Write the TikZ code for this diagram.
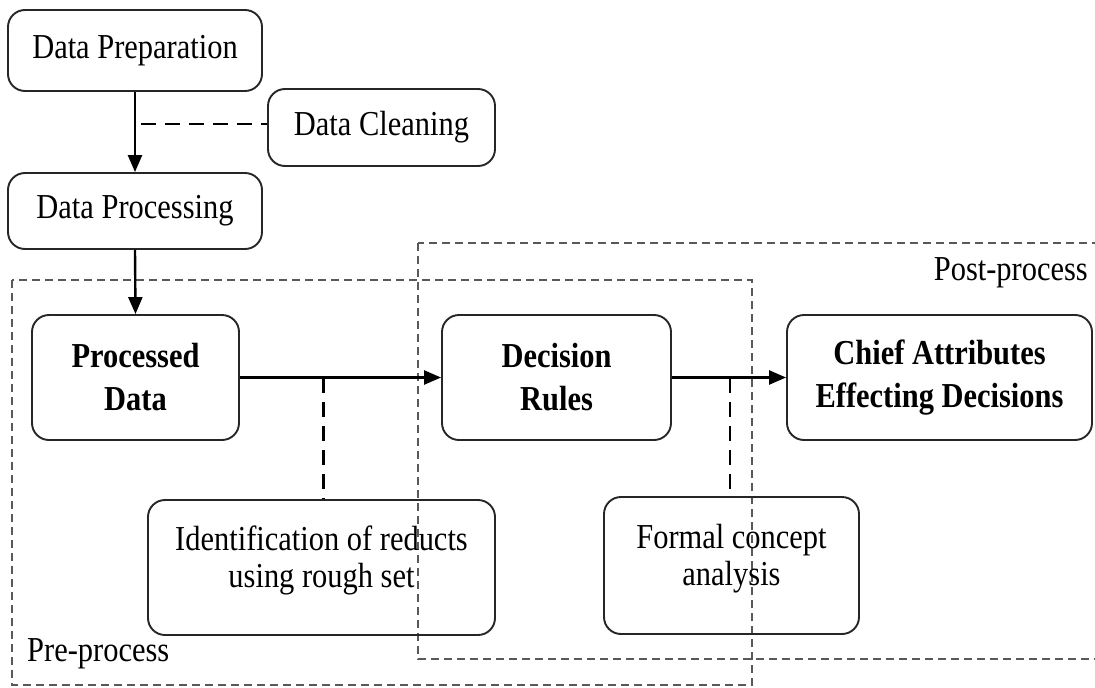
\documentclass[tikz,border=0pt]{standalone}
\usepackage{fontspec}
\setmainfont{Liberation Serif}[FakeStretch=0.87]
\usetikzlibrary{arrows.meta,calc}

\tikzset{
  box/.style={draw=black!85, line width=1.9pt, rounded corners=17pt,
    align=center, inner sep=0pt, font=\fontsize{35}{37}\selectfont},
  boldbox/.style={box, font=\fontsize{35}{43}\selectfont\bfseries},
  flow/.style={line width=2.4pt, -{Triangle[length=17pt,width=14pt]}},
  link/.style={line width=2.6pt, dash pattern=on 15pt off 9pt},
  region/.style={draw=black!65, line width=1.4pt, dash pattern=on 8pt off 5pt},
  tag/.style={inner sep=0pt, font=\fontsize{35}{37}\selectfont}
}

\begin{document}
\begin{tikzpicture}[x=1pt, y=-1pt]
\useasboundingbox (0,0) rectangle (1095,688);

% stage regions
\draw[region] (12,280) rectangle (752,685);
\draw[region] (418,243) rectangle (1110,659);
\node[tag, anchor=east] (postlbl) at (1088,273) {Post-process};
\node[tag, anchor=west] (prelbl) at (27,654) {Pre-process};

% preparation chain
\node[box, minimum width=254pt, minimum height=81pt] (prep) at (135,50.5) {Data Preparation};
\node[box, minimum width=227pt, minimum height=77pt] (clean) at (381.5,127.5) {Data Cleaning};
\node[box, minimum width=254pt, minimum height=76pt] (proc) at (135,211) {Data Processing};

% main pipeline
\node[boldbox, minimum width=207pt, minimum height=125pt] (pdata) at (135.5,377.5) {Processed\\Data};
\node[boldbox, minimum width=229pt, minimum height=125pt] (rules) at (556.5,377.5) {Decision\\Rules};
\node[boldbox, minimum width=305pt, minimum height=125pt] (chief) at (939.5,377.5) {Chief Attributes\\Effecting Decisions};

% supporting methods (text sits a little above the middle)
\node[box, minimum width=347pt, minimum height=135pt] (ident) at (321.5,567.5) {Identification of reducts\\using rough set\\[-26pt]\strut};
\node[box, minimum width=255pt, minimum height=137pt] (fca) at (731.5,565.5) {Formal concept\\analysis\\[-26pt]\strut};

% arrows
\draw[flow] (prep.south) -- (proc.north);
\draw[flow] (proc.south) -- (pdata.north);
\draw[flow] (pdata.east) -- (rules.west);
\draw[flow] (rules.east) -- (chief.west);

% dashed links
\coordinate (jc) at ($(prep.south)!0.4!(proc.north)$);
\coordinate (j1) at ($(pdata.east)!0.414!(rules.west)$);
\coordinate (j2) at ($(rules.east)!0.51!(chief.west)$);
\draw[link, shorten <=6pt] (jc) -- (jc -| clean.west);
\draw[link] (j1) -- (j1 |- ident.north);
\draw[link] (j2) -- (j2 |- fca.north);
\end{tikzpicture}
\end{document}
